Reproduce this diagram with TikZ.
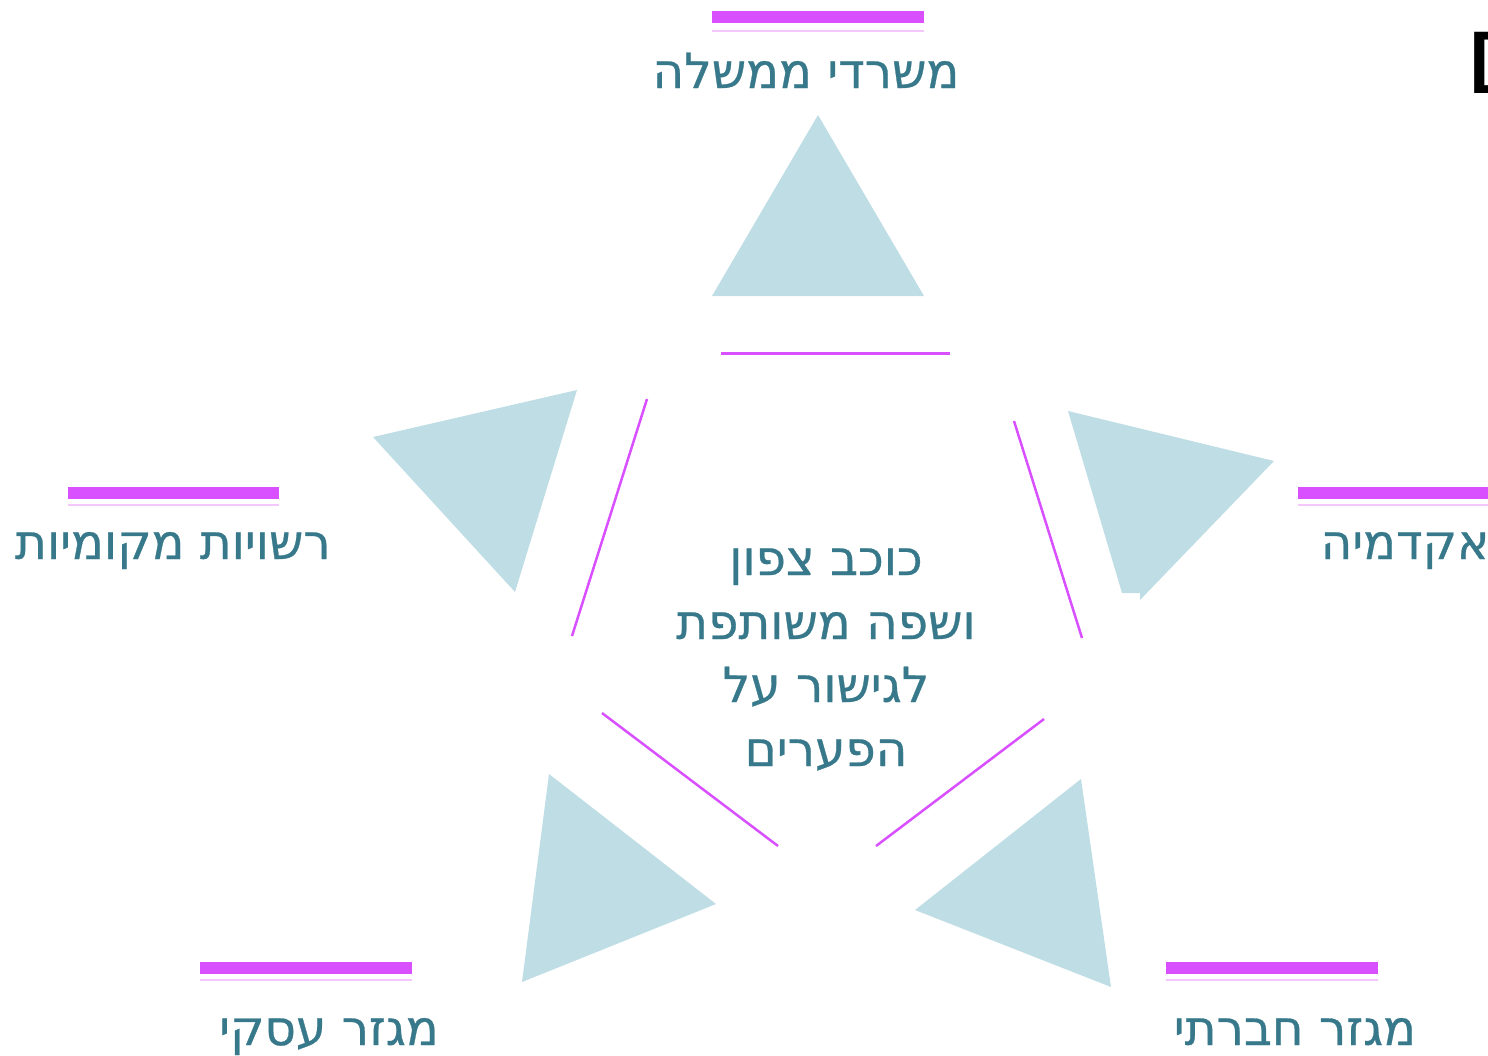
\documentclass[tikz,border=0pt]{standalone}
\usepackage{fontspec}
\TeXXeTstate=1
\newfontfamily\heb[Script=Hebrew, FakeBold=0.6]{DejaVu Sans}
\newfontfamily\hebtitle[Script=Hebrew]{DejaVu Sans}
\definecolor{tri}{HTML}{BFDDE5}
\definecolor{mag}{HTML}{D850FF}
\definecolor{magl}{HTML}{F4C8FF}
\definecolor{txt}{HTML}{37788A}
\tikzset{
  trishape/.style={fill=tri, draw=none},
  link/.style={draw=mag, line width=2.5pt},
  bar/.style={fill=mag, draw=none},
  barline/.style={draw=magl, line width=2pt},
  lbl/.style={text=txt, font=\heb\fontsize{48.5}{56}\selectfont, inner sep=0pt, anchor=base},
}
\begin{document}
\begin{tikzpicture}[x=1pt,y=-1pt]
\useasboundingbox (0,0) rectangle (1488,1055);
% triangles
\fill[trishape] (818,115) -- (924,296) -- (712,296) -- cycle;
\fill[trishape] (373,437) -- (577,390) -- (515,592) -- cycle;
\fill[trishape] (1068,411) -- (1274,461) -- (1140,600) -- (1140,593) -- (1122,593) -- cycle;
\fill[trishape] (549,774) -- (716,904) -- (522,982) -- cycle;
\fill[trishape] (1081,779) -- (1111,987) -- (915,910) -- cycle;
% pentagon segments
\coordinate (t1) at (721,353); \coordinate (t2) at (950,353);
\coordinate (l1) at (647,399); \coordinate (l2) at (572,636);
\coordinate (r1) at (1014,421); \coordinate (r2) at (1082,638);
\coordinate (bl1) at (602,713); \coordinate (bl2) at (778,846);
\coordinate (br1) at (876,846); \coordinate (br2) at (1044,719);
\draw[link, line width=3pt] (t1) -- (t2);
\draw[link] (l1) -- (l2);
\draw[link] (r1) -- (r2);
\draw[link] (bl1) -- (bl2);
\draw[link] (br1) -- (br2);
% bars
\fill[bar] (712,11) rectangle (924,23);
\draw[barline] (712,30.5) -- (924,30.5);
\fill[bar] (68,487) rectangle (279,499);
\draw[barline] (68,505) -- (279,505);
\fill[bar] (1298,487) rectangle (1500,499);
\draw[barline] (1298,505) -- (1500,505);
\fill[bar] (200,962) rectangle (412,974);
\draw[barline] (200,979.5) -- (412,979.5);
\fill[bar] (1166,962) rectangle (1378,974);
\draw[barline] (1166,979.5) -- (1378,979.5);
% labels
\node[lbl] (gov) at (806,88) {\beginR משרדי ממשלה\endR};
\node[lbl] (local) at (173,559) {\beginR רשויות מקומיות\endR};
\node[lbl] (acad) at (1405,559) {\beginR אקדמיה\endR};
\node[lbl] (biz) at (329,1045) {\beginR מגזר עסקי\endR};
\node[lbl] (soc) at (1295,1045) {\beginR מגזר חברתי\endR};
% center text
\node[lbl] (c1) at (826,575) {\beginR כוכב צפון\endR};
\node[lbl] (c2) at (826,639) {\beginR ושפה משותפת\endR};
\node[lbl] (c3) at (826,702) {\beginR לגישור על\endR};
\node[lbl] (c4) at (826,766) {\beginR הפערים\endR};
% clipped title glyph
\node[text=black, font=\hebtitle\fontsize{112}{118}\selectfont, inner sep=0pt, anchor=base west] (title) at (1464,93) {\beginR ם\endR};
\end{tikzpicture}
\end{document}
